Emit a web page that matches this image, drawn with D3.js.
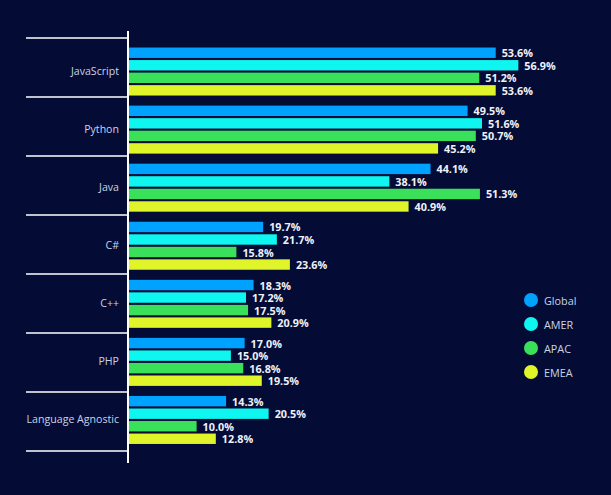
<!DOCTYPE html>
<html><head><meta charset="utf-8">
<script src="https://cdn.jsdelivr.net/npm/d3@7"></script>
<style>html,body{margin:0;padding:0;background:#040c35;}svg{display:block;}</style>
</head><body><svg id="c" width="611" height="495"></svg>
<script>
const categories = ["JavaScript","Python","Java","C#","C++","PHP","Language Agnostic"];
const seriesNames = ["Global","AMER","APAC","EMEA"];
const globalVals = [53.6,49.5,44.1,19.7,18.3,17.0,14.3];
const amerVals = [56.9,51.6,38.1,21.7,17.2,15.0,20.5];
const apacVals = [51.2,50.7,51.3,15.8,17.5,16.8,10.0];
const emeaVals = [53.6,45.2,40.9,23.6,20.9,19.5,12.8];
const seriesVals = [globalVals, amerVals, apacVals, emeaVals];
const colors = ["#00a2ff","#0ff5f0","#3ae05a","#dff52a"];

const svg = d3.select("#c");
svg.append("rect").attr("width",611).attr("height",495).attr("fill","#040c35");
const font = "'Open Sans', sans-serif";

const x = d3.scaleLinear().domain([0,60]).range([128,539.6]);
const yLines = d3.scaleBand().domain(categories).range([38,451]);
const yBars = d3.scaleBand().domain(categories).range([42,448.5]);
const inner = d3.scaleBand().domain(seriesNames).range([-23.5,24.5]).paddingInner(0.17);

// separators
const seps = d3.range(categories.length+1).map(i => 38 + i*yLines.step());
svg.selectAll("line.sep").data(seps).join("line")
  .attr("x1",26).attr("x2",128).attr("y1",d=>d).attr("y2",d=>d)
  .attr("stroke","#fff").attr("stroke-width",1.3);

// category labels
svg.selectAll("text.cat").data(categories).join("text")
  .attr("x",119).attr("y",d=>yBars(d)+yBars.bandwidth()/2)
  .attr("text-anchor","end").attr("dominant-baseline","central")
  .attr("font-family",font).attr("font-size",10.6).attr("fill","#c9d3e6").text(d=>d);

// bars
categories.forEach((c,ci)=>{
  const cy = yBars(c)+yBars.bandwidth()/2;
  seriesNames.forEach((s,si)=>{
    const v = seriesVals[si][ci];
    const y0 = cy + inner(s);
    svg.append("rect").attr("x",x(0)+1).attr("y",y0)
      .attr("width",x(v)-x(0)-1).attr("height",inner.bandwidth()).attr("fill",colors[si]);
    svg.append("text").attr("x",x(v)+6).attr("y",y0+inner.bandwidth()/2)
      .attr("dominant-baseline","central").attr("font-family",font)
      .attr("font-weight","bold").attr("font-size",10.8).attr("fill","#eef2fa")
      .text(v.toFixed(1)+"%");
  });
});

// axis line
svg.append("line").attr("x1",128).attr("x2",128).attr("y1",31).attr("y2",463)
  .attr("stroke","#fff").attr("stroke-width",2);

// legend
const lg = svg.append("g");
seriesNames.forEach((s,i)=>{
  const ly = 300 + i*24;
  lg.append("circle").attr("cx",531).attr("cy",ly).attr("r",7).attr("fill",colors[i]);
  lg.append("text").attr("x",544).attr("y",ly).attr("dominant-baseline","central")
    .attr("font-family",font).attr("font-size",10.8).attr("fill","#c9d3e6").text(s);
});
</script></body></html>
